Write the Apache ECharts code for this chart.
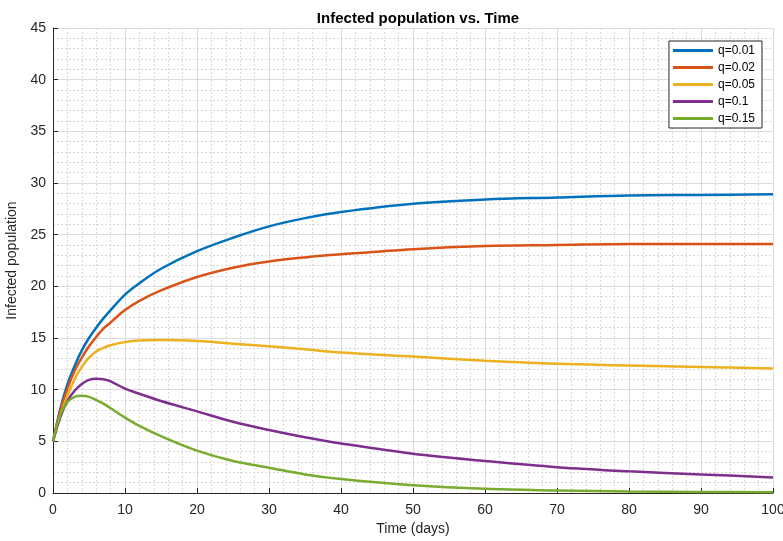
<!DOCTYPE html>
<html>
<head>
<meta charset="utf-8">
<title>Infected population vs. Time</title>
<script src="https://cdn.jsdelivr.net/npm/echarts@6/dist/echarts.min.js"></script>
<style>
  html, body { margin: 0; padding: 0; background: #fff; }
  #chart { width: 783px; height: 541px; }
</style>
</head>
<body>
<div id="chart"></div>
<script>
// time points (days)
const days = [0, 1, 2, 3, 4, 5, 6, 7, 8, 10, 12, 15, 20, 25, 30, 35, 40, 50, 60, 70, 80, 90, 100];

// infected population
const q001 = [5, 8.1, 10.5, 12.3, 13.8, 15.0, 16.0, 16.9, 17.7, 19.2, 20.3, 21.7, 23.4, 24.7, 25.8, 26.6, 27.2, 28.0, 28.4, 28.6, 28.8, 28.85, 28.9];
const q002 = [5, 7.9, 10.1, 11.8, 13.1, 14.2, 15.1, 15.9, 16.5, 17.7, 18.6, 19.6, 20.9, 21.8, 22.4, 22.8, 23.1, 23.6, 23.9, 24.0, 24.1, 24.1, 24.1];
const q005 = [5, 7.5, 9.4, 11.0, 12.2, 13.1, 13.7, 14.05, 14.3, 14.6, 14.75, 14.8, 14.7, 14.45, 14.2, 13.9, 13.6, 13.2, 12.8, 12.5, 12.35, 12.2, 12.05];
const q01 = [5, 7.3, 8.9, 9.9, 10.55, 10.95, 11.05, 11.0, 10.8, 10.1, 9.6, 8.9, 7.9, 6.9, 6.1, 5.4, 4.8, 3.8, 3.1, 2.5, 2.1, 1.8, 1.5];
const q015 = [5, 7.5, 8.8, 9.3, 9.4, 9.3, 9.0, 8.65, 8.2, 7.3, 6.5, 5.5, 4.1, 3.1, 2.45, 1.8, 1.35, 0.75, 0.4, 0.25, 0.15, 0.1, 0.07];

const seriesNames = ['q=0.01', 'q=0.02', 'q=0.05', 'q=0.1', 'q=0.15'];
const seriesValues = [q001, q002, q005, q01, q015];
const colors = ['#0072BD', '#D95319', '#EDB120', '#7E2F8E', '#77AC30'];

const font = 'Helvetica, Arial, "Liberation Sans", sans-serif';
const chart = echarts.init(document.getElementById('chart'));

const axisCommon = {
  type: 'value',
  nameLocation: 'middle',
  nameTextStyle: { fontFamily: font, fontSize: 14, color: '#262626' },
  axisLine: { show: true, onZero: false, lineStyle: { color: '#262626', width: 1 } },
  axisTick: { show: true, inside: true, length: 5, lineStyle: { color: '#262626' } },
  axisLabel: { fontFamily: font, fontSize: 14, color: '#262626' },
  splitLine: { show: true, lineStyle: { color: '#dcdcdc', width: 1 } },
  minorTick: { show: false, splitNumber: 5 },
  minorSplitLine: { show: true, lineStyle: { color: '#d8d8d8', width: 1, type: [2, 2] } }
};

const option = {
  animation: false,
  backgroundColor: '#fff',
  title: {
    text: 'Infected population vs. Time',
    left: 413,
    textAlign: 'center',
    top: 6,
    textStyle: { fontFamily: font, fontSize: 15, fontWeight: 'bold', color: '#000' }
  },
  legend: {
    orient: 'vertical',
    right: 21,
    top: 41,
    data: seriesNames,
    icon: 'rect',
    itemWidth: 40,
    itemHeight: 3,
    itemGap: 4,
    padding: [3, 7, 3, 4],
    borderColor: '#262626',
    borderWidth: 1,
    backgroundColor: '#fff',
    textStyle: { fontFamily: font, fontSize: 12, color: '#000', lineHeight: 13 }
  },
  grid: { left: 53, right: 10, top: 28, bottom: 48, containLabel: false, outerBoundsMode: 'none' },
  xAxis: Object.assign({}, axisCommon, {
    name: 'Time (days)',
    nameGap: 28,
    min: 0, max: 100, interval: 10,
    axisLabel: Object.assign({}, axisCommon.axisLabel, { margin: 10 })
  }),
  yAxis: Object.assign({}, axisCommon, {
    name: 'Infected population',
    nameGap: 34,
    min: 0, max: 45, interval: 5,
    axisLabel: Object.assign({}, axisCommon.axisLabel, { margin: 7 })
  }),
  series: seriesNames.map((name, i) => ({
    name: name,
    type: 'line',
    symbol: 'none',
    smooth: 0.35,
    color: colors[i],
    lineStyle: { width: 2.5, color: colors[i] },
    data: days.map((d, j) => [d, seriesValues[i][j]])
  }))
};

chart.setOption(option);
</script>
</body>
</html>
